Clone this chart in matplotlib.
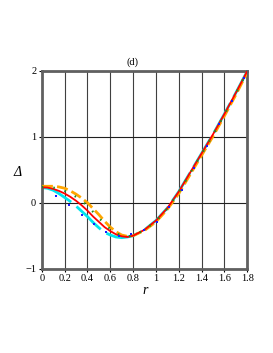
import numpy as np
import matplotlib
matplotlib.use('Agg')
import matplotlib.pyplot as plt

#Values.
r = [0, 0.05, 0.1, 0.15, 0.2, 0.25, 0.3, 0.35, 0.4, 0.45, 0.5, 0.55, 0.6, 0.65,
     0.7, 0.75, 0.8, 0.9, 1.0, 1.1, 1.2, 1.3, 1.4, 1.5, 1.6, 1.7, 1.8]
red = [0.235, 0.23, 0.21, 0.18, 0.14, 0.09, 0.03, -0.04, -0.12, -0.21, -0.29, -0.37, -0.43, -0.48,
       -0.51, -0.52, -0.5, -0.41, -0.27, -0.08, 0.17, 0.46, 0.75, 1.04, 1.35, 1.67, 2.0]
cyan = [0.23, 0.22, 0.19, 0.14, 0.08, 0.02, -0.05, -0.13, -0.21, -0.3, -0.38, -0.45, -0.49, -0.52,
        -0.53, -0.52, -0.5, -0.41, -0.27, -0.08, 0.17, 0.46, 0.75, 1.04, 1.35, 1.67, 2.0]
orange = [0.25, 0.25, 0.25, 0.24, 0.22, 0.18, 0.13, 0.07, 0.0, -0.09, -0.18, -0.28, -0.37, -0.44,
          -0.49, -0.51, -0.5, -0.42, -0.29, -0.1, 0.14, 0.43, 0.72, 1.01, 1.32, 1.64, 1.98]
green = [0.24, 0.24, 0.23, 0.21, 0.18, 0.14, 0.09, 0.03, -0.05, -0.14, -0.23, -0.32, -0.4, -0.46,
         -0.5, -0.51, -0.5, -0.41, -0.28, -0.09, 0.16, 0.45, 0.74, 1.03, 1.34, 1.66, 2.0]
blue_r = [0.125, 0.24, 0.35, 0.455, 0.565, 0.675, 0.785, 0.895, 1.005, 1.115,
          1.225, 1.335, 1.445, 1.555, 1.665, 1.775]
blue_y = [0.10, -0.03, -0.18, -0.33, -0.44, -0.5, -0.48, -0.41, -0.29, -0.07,
          0.2, 0.52, 0.86, 1.2, 1.55, 1.9]

xticks = [0, 0.2, 0.4, 0.6, 0.8, 1, 1.2, 1.4, 1.6, 1.8]
xticklabels = ['0', '0.2', '0.4', '0.6', '0.8', '1', '1.2', '1.4', '1.6', '1.8']
yticks = [-1, 0, 1, 2]

plt.rcParams['font.family'] = ['Liberation Serif', 'DejaVu Serif']

fig = plt.figure(figsize=(2.73, 3.53), dpi=100)
ax = fig.add_axes([0.153, 0.239, 0.753, 0.56])

#Grid lines.
for xv in xticks:
    ax.axvline(xv, color='#404040', lw=0.8, zorder=1)
for yv in yticks:
    ax.axhline(yv, color='#202020', lw=0.8, zorder=1)

#Curves.
ax.plot(r, cyan, color='#00e5ee', lw=2.0, dashes=(12, 2.5), zorder=2)
ax.plot(r, orange, color='#ffa500', lw=2.0, dashes=(4, 1.5), zorder=3)
ax.plot(r, red, color='#ff0000', lw=1.3, zorder=4)
ax.plot(r, green, color='#228b22', lw=1.6, dashes=(0.7, 4.5), zorder=5)
ax.plot(blue_r, blue_y, 's', color='#1a1aff', ms=1.6, mew=0, zorder=6)

ax.set_xlim(0, 1.8)
ax.set_ylim(-1, 2)
ax.set_xticks(xticks)
ax.set_xticklabels(xticklabels)
ax.set_yticks(yticks)
ax.tick_params(labelsize=7.5, length=2, width=0.8, pad=2)
for s in ax.spines.values():
    s.set_color('#606060')
    s.set_linewidth(2)

fig.text(0.487, 0.824, '(d)', ha='center', va='center', fontsize=7.5)
fig.text(0.066, 0.51, 'Δ', ha='center', va='center', fontsize=10, style='italic')
fig.text(0.531, 0.176, 'r', ha='center', va='center', fontsize=10, style='italic')

plt.savefig('out.png', dpi=100)
